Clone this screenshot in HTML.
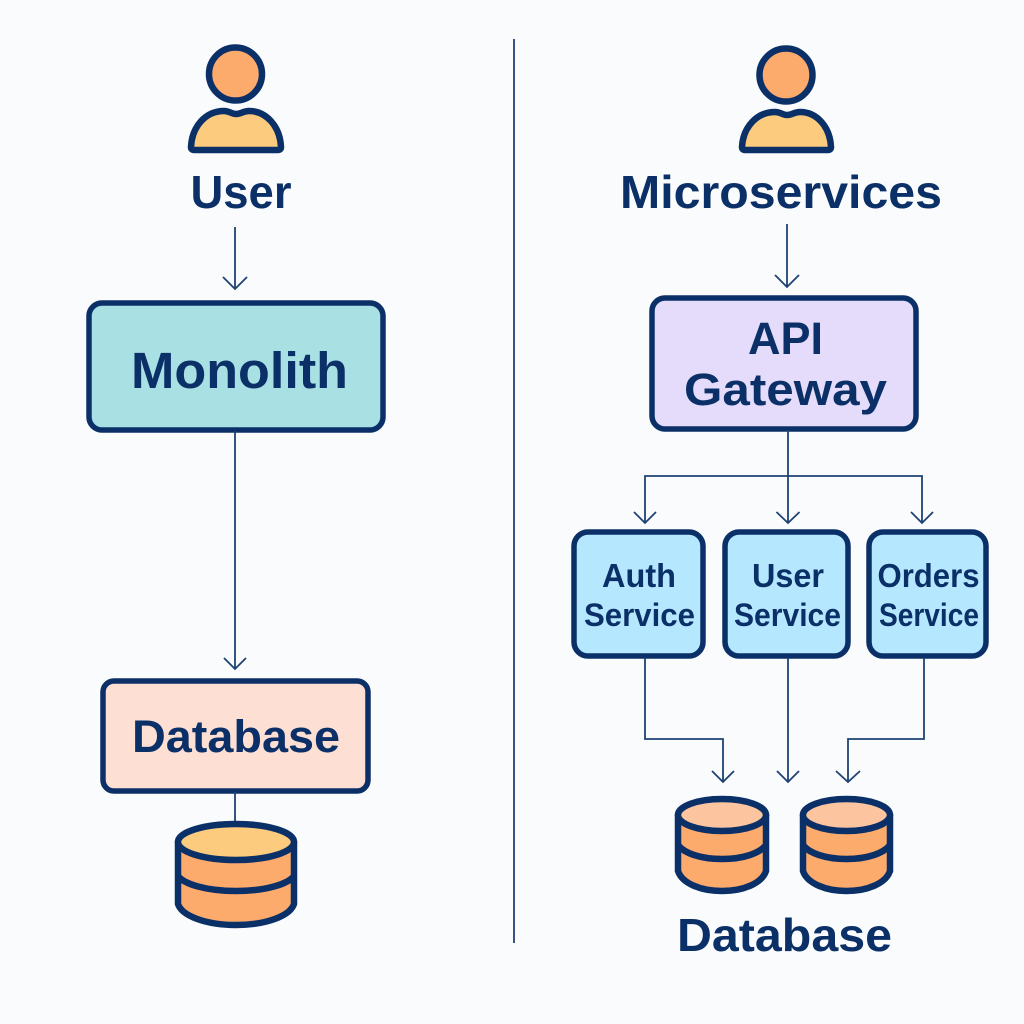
<!DOCTYPE html>
<html>
<head>
<meta charset="utf-8">
<style>
html,body{margin:0;padding:0;background:#fafbfc;}
svg{display:block;}
text{font-family:"Liberation Sans",sans-serif;font-weight:700;fill:#0b3068;text-anchor:middle;}
.l{stroke:#1f4274;stroke-width:1.8;fill:none;}
.r{stroke:#0b3068;stroke-width:5.500;stroke-linejoin:round;}
.b{stroke:#0b3068;stroke-width:6.500;stroke-linejoin:round;}
.u{stroke:#0b3068;stroke-width:6.500;stroke-linejoin:round;}
</style>
</head>
<body>
<svg width="1024" height="1024" viewBox="0 0 1024 1024" xmlns="http://www.w3.org/2000/svg">
<rect width="1024" height="1024" fill="#fafbfc"/>
<line class="l" x1="514" y1="39" x2="514" y2="943"/>

<!-- left user -->
<circle class="u" cx="235.500" cy="74" r="26.500" fill="#fdaa6d"/>
<path class="u" d="M194 150 Q191 150 191 147 C192 126 206 111 224 111 C230 111 231 114 236 114 C241 114 243 111 249 111 C266 111 280 126 281 147 Q281 150 278 150 Z" fill="#fdcb7e"/>
<text x="241" y="208" font-size="46" textLength="101" lengthAdjust="spacingAndGlyphs">User</text>
<path class="l" d="M235 227V289M223 277L235 289L247 277"/>

<!-- monolith -->
<rect class="r" x="89" y="303" width="294" height="127" rx="13" fill="#a8e0e4"/>
<text x="239.500" y="388" font-size="51" textLength="217" lengthAdjust="spacingAndGlyphs">Monolith</text>
<path class="l" d="M235 431V669M224 658L235 669L246 658"/>

<!-- left db -->
<rect class="r" x="103" y="681" width="265" height="110" rx="11" fill="#fddfd3"/>
<text x="236" y="752" font-size="45" textLength="208" lengthAdjust="spacingAndGlyphs">Database</text>
<line class="l" x1="235" y1="792" x2="235" y2="822"/>
<path class="b" d="M178 842V904C182 916 206 925 236 925C266 925 290 916 294 904V842Z" fill="#fdaa6d"/>
<path class="b" d="M178 876C184 884 206 891 236 891C266 891 288 884 294 876" fill="none"/>
<ellipse class="b" cx="236" cy="842" rx="58" ry="18" fill="#fdcb7e"/>

<!-- right user -->
<circle class="u" cx="786" cy="75" r="26.500" fill="#fdaa6d"/>
<path class="u" d="M745 150 Q742 150 742 147 C743 127 757 112 775 112 C781 112 782 115 787 115 C792 115 794 112 800 112 C817 112 830 127 831 147 Q831 150 828 150 Z" fill="#fdcb7e"/>
<text x="781" y="208" font-size="46" textLength="322" lengthAdjust="spacingAndGlyphs">Microservices</text>
<path class="l" d="M787 224V287M775 275L787 287L799 275"/>

<!-- gateway -->
<rect class="r" x="652" y="298" width="264" height="131" rx="13" fill="#e4dcfa"/>
<text x="785.500" y="354" font-size="45" textLength="75" lengthAdjust="spacingAndGlyphs">API</text>
<text x="785.500" y="405" font-size="45" textLength="203" lengthAdjust="spacingAndGlyphs">Gateway</text>

<path class="l" d="M788 430V523M776.500 512L788 523L799.500 512"/>
<path class="l" d="M645 523V476H922V523M634 512L645 523L656 512M911 512L922 523L933 512"/>

<!-- services -->
<rect class="r" x="574" y="532" width="129" height="124" rx="14" fill="#b5e8ff"/>
<rect class="r" x="725" y="532" width="123" height="124" rx="14" fill="#b5e8ff"/>
<rect class="r" x="869" y="532" width="117" height="124" rx="14" fill="#b5e8ff"/>
<text x="639" y="587" font-size="33" textLength="74" lengthAdjust="spacingAndGlyphs">Auth</text>
<text x="639.500" y="626" font-size="32" textLength="111" lengthAdjust="spacingAndGlyphs">Service</text>
<text x="788" y="587" font-size="33" textLength="72" lengthAdjust="spacingAndGlyphs">User</text>
<text x="787.500" y="626" font-size="32" textLength="107" lengthAdjust="spacingAndGlyphs">Service</text>
<text x="928.500" y="587" font-size="33" textLength="102" lengthAdjust="spacingAndGlyphs">Orders</text>
<text x="929" y="626" font-size="32" textLength="100" lengthAdjust="spacingAndGlyphs">Service</text>

<!-- lower connectors -->
<path class="l" d="M645 658V739H723V782M712 771L723 782L734 771"/>
<path class="l" d="M788 658V782M777 771L788 782L799 771"/>
<path class="l" d="M924 658V739H848V782M836 771L848 782L860 771"/>

<!-- right dbs -->
<path class="b" d="M678 815V871C682 883 700 891 722 891C744 891 762 883 766 871V815Z" fill="#fdaa6d"/>
<path class="b" d="M678 845C684 853 700 859 722 859C744 859 760 853 766 845" fill="none"/>
<ellipse class="b" cx="722" cy="815" rx="44" ry="16" fill="#fdc4a0"/>
<path class="b" d="M803 815V871C807 883 825 891 846.500 891C868 891 886 883 890 871V815Z" fill="#fdaa6d"/>
<path class="b" d="M803 845C809 853 825 859 846.500 859C868 859 884 853 890 845" fill="none"/>
<ellipse class="b" cx="846.500" cy="815" rx="43.500" ry="16" fill="#fdc4a0"/>
<text x="784.500" y="951" font-size="46" textLength="215" lengthAdjust="spacingAndGlyphs">Database</text>
</svg>
</body>
</html>
